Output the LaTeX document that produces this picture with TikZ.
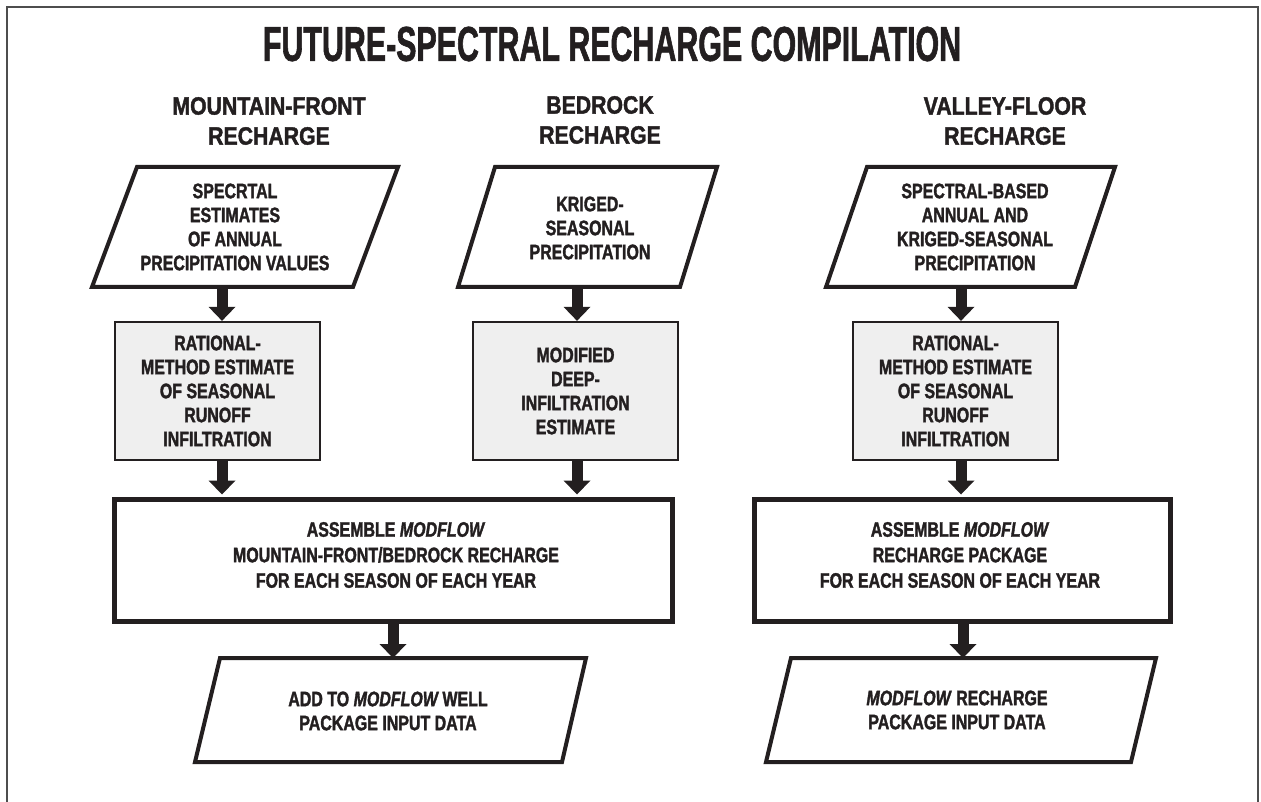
\documentclass[tikz,border=0pt]{standalone}
\usepackage{fontspec}
\setmainfont{Liberation Sans}[UprightFont=* Bold, ItalicFont=* Bold Italic, BoldFont=* Bold, BoldItalicFont=* Bold Italic, FakeStretch=0.76, FakeBold=1.6]
\newfontfamily\titlefont{Liberation Sans}[UprightFont=* Bold, ItalicFont=* Bold Italic, FakeStretch=0.62, FakeBold=1.2]
\newfontfamily\headfont{Liberation Sans}[UprightFont=* Bold, ItalicFont=* Bold Italic, FakeStretch=0.85, FakeBold=1.6]
\usetikzlibrary{arrows.meta}
\definecolor{ink}{HTML}{231F20}
\definecolor{boxfill}{HTML}{EFEFEF}
\definecolor{framecol}{HTML}{4D4D4D}
\begin{document}
\begin{tikzpicture}[x=1pt,y=-1pt,
  txt/.style={text=ink, font=\fontsize{21}{24}\selectfont, align=center, inner sep=0pt},
  bigtxt/.style={txt, font=\fontsize{21}{25.5}\selectfont},
  head/.style={text=ink, font=\headfont\fontsize{25}{30}\selectfont, align=center, inner sep=0pt},
  smallbox/.style={txt, draw=ink, fill=boxfill, line width=2.3pt, minimum width=205pt, minimum height=138pt},
  bigbox/.style={draw=ink, line width=5pt, inner sep=0pt, minimum height=121.5pt},
  paraline/.style={draw=ink, line width=4pt, line join=miter},
  flow/.style={draw=ink, line width=11pt, -{Triangle[width=27pt,length=14pt,line width=0pt]}},
]
\useasboundingbox (0,0) rectangle (1261,802);

% open frame
\draw[framecol, line width=1.5pt] (7,802) -- (7,7) -- (1258,7) -- (1258,802);

% title and column headings
\node[text=ink, font=\titlefont\fontsize{49}{55}\selectfont, inner sep=0pt] (title) at (612,44) {FUTURE-SPECTRAL RECHARGE COMPILATION};
\node[head] (h1) at (269,121) {MOUNTAIN-FRONT\\RECHARGE};
\node[head] (h2) at (600,120) {BEDROCK\\RECHARGE};
\node[head] (h3) at (1005,121) {VALLEY-FLOOR\\RECHARGE};

% input data (parallelograms)
\draw[paraline] (137,167) -- (398,167) -- (353,287) -- (92,287) -- cycle;
\node[txt] (p1) at (235,227) {SPECRTAL\\ESTIMATES\\OF ANNUAL\\PRECIPITATION VALUES};
\draw[paraline] (495,167) -- (717,167) -- (680,287) -- (458,287) -- cycle;
\node[txt] (p2) at (590,228) {KRIGED-\\SEASONAL\\PRECIPITATION};
\draw[paraline] (867,167) -- (1115,167) -- (1075,287) -- (826,287) -- cycle;
\node[txt] (p3) at (975,227) {SPECTRAL-BASED\\ANNUAL AND\\KRIGED-SEASONAL\\PRECIPITATION};

\coordinate (p1out) at (222,287);
\coordinate (p2out) at (577,287);
\coordinate (p3out) at (961,287);

% estimation steps
\node[smallbox] (r1) at (217.5,391) {RATIONAL-\\METHOD ESTIMATE\\OF SEASONAL\\RUNOFF\\INFILTRATION};
\node[smallbox] (r2) at (575.5,391) {MODIFIED\\DEEP-\\INFILTRATION\\ESTIMATE};
\node[smallbox] (r3) at (955.5,391) {RATIONAL-\\METHOD ESTIMATE\\OF SEASONAL\\RUNOFF\\INFILTRATION};

% assembly steps
\node[bigbox, minimum width=558pt] (b1) at (393.5,560.25) {};
\node[bigtxt] (b1t) at (396,555) {ASSEMBLE \textit{MODFLOW}\\MOUNTAIN-FRONT/BEDROCK RECHARGE\\FOR EACH SEASON OF EACH YEAR};
\node[bigbox, minimum width=416pt] (b2) at (962.5,560.25) {};
\node[bigtxt] (b2t) at (960,555) {ASSEMBLE \textit{MODFLOW}\\RECHARGE PACKAGE\\FOR EACH SEASON OF EACH YEAR};

% output data (parallelograms)
\draw[paraline] (220,658) -- (586,658) -- (562,762) -- (195,762) -- cycle;
\node[txt] (p4) at (388,711) {ADD TO \textit{MODFLOW}\,WELL\\PACKAGE INPUT DATA};
\draw[paraline] (791,658) -- (1156,658) -- (1131,762) -- (766,762) -- cycle;
\node[txt] (p5) at (957,710) {\textit{MODFLOW} RECHARGE\\PACKAGE INPUT DATA};

\coordinate (p4in) at (393,658);
\coordinate (p5in) at (963,658);

% flow arrows
\draw[flow] (p1out) -- (p1out |- r1.north);
\draw[flow] (p2out) -- (p2out |- r2.north);
\draw[flow] (p3out) -- (p3out |- r3.north);
\draw[flow] (r1.south -| p1out) -- ([yshift=2.5pt]b1.north -| p1out);
\draw[flow] (r2.south -| p2out) -- ([yshift=2.5pt]b1.north -| p2out);
\draw[flow] (r3.south -| p3out) -- ([yshift=2.5pt]b2.north -| p3out);
\draw[flow] (b1.south -| p4in) -- (p4in);
\draw[flow] (b2.south -| p5in) -- (p5in);
\end{tikzpicture}
\end{document}
